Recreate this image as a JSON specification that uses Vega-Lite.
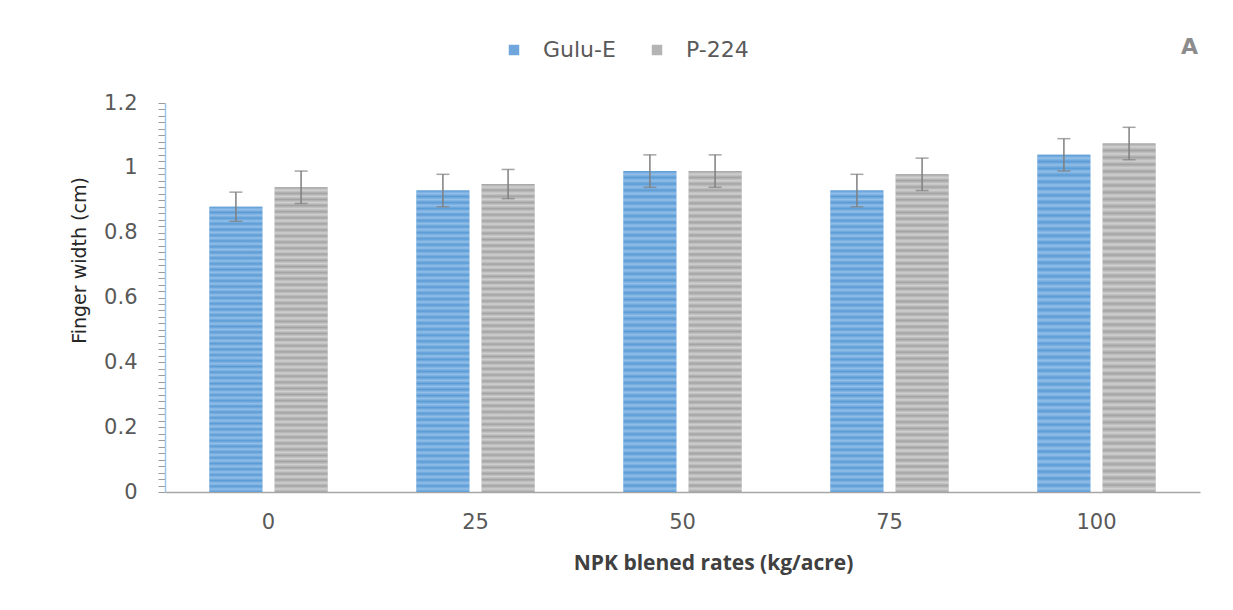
{
  "$schema": "https://vega.github.io/schema/vega-lite/v6.json",
  "autosize": {"type": "none"},
  "width": 1035,
  "height": 389,
  "padding": {"left": 165, "top": 103, "right": 33, "bottom": 118},
  "background": "white",
  "title": {"text": "A", "anchor": "end", "fontSize": 22, "font": "DejaVu Sans", "fontWeight": "bold", "color": "#8c8c8c", "offset": -20, "dx": -2},
  "config": {
    "view": {"stroke": null},
    "font": "Open Sans"
  },
  "data": {
    "values": [
      {"rate": "0", "series": "Gulu-E", "value": 0.88, "lo": 0.835, "hi": 0.925},
      {"rate": "0", "series": "P-224", "value": 0.94, "lo": 0.89, "hi": 0.99},
      {"rate": "25", "series": "Gulu-E", "value": 0.93, "lo": 0.88, "hi": 0.98},
      {"rate": "25", "series": "P-224", "value": 0.95, "lo": 0.905, "hi": 0.995},
      {"rate": "50", "series": "Gulu-E", "value": 0.99, "lo": 0.94, "hi": 1.04},
      {"rate": "50", "series": "P-224", "value": 0.99, "lo": 0.94, "hi": 1.04},
      {"rate": "75", "series": "Gulu-E", "value": 0.93, "lo": 0.88, "hi": 0.98},
      {"rate": "75", "series": "P-224", "value": 0.98, "lo": 0.93, "hi": 1.03},
      {"rate": "100", "series": "Gulu-E", "value": 1.04, "lo": 0.99, "hi": 1.09},
      {"rate": "100", "series": "P-224", "value": 1.075, "lo": 1.025, "hi": 1.125}
    ]
  },
  "encoding": {
    "x": {
      "field": "rate",
      "type": "ordinal",
      "sort": ["0", "25", "50", "75", "100"],
      "scale": {"paddingInner": 0.43, "paddingOuter": 0.215},
      "axis": {
        "title": "NPK blened rates (kg/acre)",
        "titleFont": "Open Sans",
        "titleFontWeight": "bold",
        "titleFontSize": 21,
        "titleColor": "#404040",
        "titlePadding": 20,
        "titleX": 548,
        "titleAlign": "center",
        "labelAngle": 0,
        "labelFont": "DejaVu Sans",
        "labelFontSize": 21,
        "labelColor": "#595959",
        "labelPadding": 19,
        "ticks": false,
        "domainColor": "#a6a6a6",
        "domainWidth": 1.5,
        "grid": false
      }
    },
    "xOffset": {
      "field": "series",
      "type": "nominal",
      "sort": ["Gulu-E", "P-224"],
      "scale": {"paddingInner": 0.19, "paddingOuter": 0}
    }
  },
  "layer": [
    {
      "mark": {"type": "bar"},
      "encoding": {
        "y": {
          "field": "value",
          "type": "quantitative",
          "scale": {"domain": [0, 1.2], "nice": false},
          "axis": {
            "title": "Finger width (cm)",
            "titleFont": "DejaVu Sans",
            "titleFontWeight": "normal",
            "titleFontSize": 19,
            "titleColor": "#262626",
            "titlePadding": 14,
            "titleY": 157,
            "titleAlign": "center",
            "tickCount": 100,
            "values": [0, 0.02, 0.04, 0.06, 0.08, 0.1, 0.12, 0.14, 0.16, 0.18, 0.2, 0.22, 0.24, 0.26, 0.28, 0.3, 0.32, 0.34, 0.36, 0.38, 0.4, 0.42, 0.44, 0.46, 0.48, 0.5, 0.52, 0.54, 0.56, 0.58, 0.6, 0.62, 0.64, 0.66, 0.68, 0.7, 0.72, 0.74, 0.76, 0.78, 0.8, 0.82, 0.84, 0.86, 0.88, 0.9, 0.92, 0.94, 0.96, 0.98, 1, 1.02, 1.04, 1.06, 1.08, 1.1, 1.12, 1.14, 1.16, 1.18, 1.2],
            "labelExpr": "indexof(['0','0.2','0.4','0.6','0.8','1','1.2'], toString(datum.value)) >= 0 ? toString(datum.value) : ''",
            "labelFont": "DejaVu Sans",
            "labelFontSize": 21,
            "labelColor": "#595959",
            "labelPadding": 21,
            "labelOverlap": false,
            "labelBound": false,
            "tickSize": 7,
            "tickColor": "#9a9a9a",
            "domainColor": "#9dc3e6",
            "domainWidth": 1.5,
            "grid": false
          }
        },
        "color": {
          "field": "series",
          "type": "nominal",
          "sort": ["Gulu-E", "P-224"],
          "scale": {"domain": ["Gulu-E", "P-224"], "range": ["#6fa6dc", "#b4b4b4"]},
          "legend": {
            "title": null,
            "orient": "none",
            "legendX": 338,
            "legendY": -64,
            "direction": "horizontal",
            "symbolType": "square",
            "symbolSize": 110,
            "symbolStrokeWidth": 0,
            "labelFontSize": 22,
            "labelColor": "#595959",
            "labelFont": "DejaVu Sans",
            "columnPadding": 30,
            "labelOffset": 18
          }
        }
      }
    },
    {
      "mark": {"type": "bar"},
      "encoding": {
        "y": {"field": "value", "type": "quantitative"},
        "color": {
          "condition": {
            "test": "datum.series === 'Gulu-E'",
            "value": {"gradient": "linear", "x1": 0, "y1": 0, "x2": 0, "y2": 1, "stops": [
                {"offset": 0, "color": "#5b9bd5"}, {"offset": 0.01, "color": "#92bfe9"}, {"offset": 0.02, "color": "#5b9bd5"}, {"offset": 0.03, "color": "#92bfe9"}, {"offset": 0.04, "color": "#5b9bd5"}, {"offset": 0.05, "color": "#92bfe9"}, {"offset": 0.06, "color": "#5b9bd5"}, {"offset": 0.07, "color": "#92bfe9"}, {"offset": 0.08, "color": "#5b9bd5"}, {"offset": 0.09, "color": "#92bfe9"},
                {"offset": 0.1, "color": "#5b9bd5"}, {"offset": 0.11, "color": "#92bfe9"}, {"offset": 0.12, "color": "#5b9bd5"}, {"offset": 0.13, "color": "#92bfe9"}, {"offset": 0.14, "color": "#5b9bd5"}, {"offset": 0.15, "color": "#92bfe9"}, {"offset": 0.16, "color": "#5b9bd5"}, {"offset": 0.17, "color": "#92bfe9"}, {"offset": 0.18, "color": "#5b9bd5"}, {"offset": 0.19, "color": "#92bfe9"},
                {"offset": 0.2, "color": "#5b9bd5"}, {"offset": 0.21, "color": "#92bfe9"}, {"offset": 0.22, "color": "#5b9bd5"}, {"offset": 0.23, "color": "#92bfe9"}, {"offset": 0.24, "color": "#5b9bd5"}, {"offset": 0.25, "color": "#92bfe9"}, {"offset": 0.26, "color": "#5b9bd5"}, {"offset": 0.27, "color": "#92bfe9"}, {"offset": 0.28, "color": "#5b9bd5"}, {"offset": 0.29, "color": "#92bfe9"},
                {"offset": 0.3, "color": "#5b9bd5"}, {"offset": 0.31, "color": "#92bfe9"}, {"offset": 0.32, "color": "#5b9bd5"}, {"offset": 0.33, "color": "#92bfe9"}, {"offset": 0.34, "color": "#5b9bd5"}, {"offset": 0.35, "color": "#92bfe9"}, {"offset": 0.36, "color": "#5b9bd5"}, {"offset": 0.37, "color": "#92bfe9"}, {"offset": 0.38, "color": "#5b9bd5"}, {"offset": 0.39, "color": "#92bfe9"},
                {"offset": 0.4, "color": "#5b9bd5"}, {"offset": 0.41, "color": "#92bfe9"}, {"offset": 0.42, "color": "#5b9bd5"}, {"offset": 0.43, "color": "#92bfe9"}, {"offset": 0.44, "color": "#5b9bd5"}, {"offset": 0.45, "color": "#92bfe9"}, {"offset": 0.46, "color": "#5b9bd5"}, {"offset": 0.47, "color": "#92bfe9"}, {"offset": 0.48, "color": "#5b9bd5"}, {"offset": 0.49, "color": "#92bfe9"},
                {"offset": 0.5, "color": "#5b9bd5"}, {"offset": 0.51, "color": "#92bfe9"}, {"offset": 0.52, "color": "#5b9bd5"}, {"offset": 0.53, "color": "#92bfe9"}, {"offset": 0.54, "color": "#5b9bd5"}, {"offset": 0.55, "color": "#92bfe9"}, {"offset": 0.56, "color": "#5b9bd5"}, {"offset": 0.57, "color": "#92bfe9"}, {"offset": 0.58, "color": "#5b9bd5"}, {"offset": 0.59, "color": "#92bfe9"},
                {"offset": 0.6, "color": "#5b9bd5"}, {"offset": 0.61, "color": "#92bfe9"}, {"offset": 0.62, "color": "#5b9bd5"}, {"offset": 0.63, "color": "#92bfe9"}, {"offset": 0.64, "color": "#5b9bd5"}, {"offset": 0.65, "color": "#92bfe9"}, {"offset": 0.66, "color": "#5b9bd5"}, {"offset": 0.67, "color": "#92bfe9"}, {"offset": 0.68, "color": "#5b9bd5"}, {"offset": 0.69, "color": "#92bfe9"},
                {"offset": 0.7, "color": "#5b9bd5"}, {"offset": 0.71, "color": "#92bfe9"}, {"offset": 0.72, "color": "#5b9bd5"}, {"offset": 0.73, "color": "#92bfe9"}, {"offset": 0.74, "color": "#5b9bd5"}, {"offset": 0.75, "color": "#92bfe9"}, {"offset": 0.76, "color": "#5b9bd5"}, {"offset": 0.77, "color": "#92bfe9"}, {"offset": 0.78, "color": "#5b9bd5"}, {"offset": 0.79, "color": "#92bfe9"},
                {"offset": 0.8, "color": "#5b9bd5"}, {"offset": 0.81, "color": "#92bfe9"}, {"offset": 0.82, "color": "#5b9bd5"}, {"offset": 0.83, "color": "#92bfe9"}, {"offset": 0.84, "color": "#5b9bd5"}, {"offset": 0.85, "color": "#92bfe9"}, {"offset": 0.86, "color": "#5b9bd5"}, {"offset": 0.87, "color": "#92bfe9"}, {"offset": 0.88, "color": "#5b9bd5"}, {"offset": 0.89, "color": "#92bfe9"},
                {"offset": 0.9, "color": "#5b9bd5"}, {"offset": 0.91, "color": "#92bfe9"}, {"offset": 0.92, "color": "#5b9bd5"}, {"offset": 0.93, "color": "#92bfe9"}, {"offset": 0.94, "color": "#5b9bd5"}, {"offset": 0.95, "color": "#92bfe9"}, {"offset": 0.96, "color": "#5b9bd5"}, {"offset": 0.97, "color": "#92bfe9"}, {"offset": 0.98, "color": "#5b9bd5"}, {"offset": 0.99, "color": "#92bfe9"},
                {"offset": 1, "color": "#5b9bd5"}
              ]}
          },
          "value": {"gradient": "linear", "x1": 0, "y1": 0, "x2": 0, "y2": 1, "stops": [
                {"offset": 0, "color": "#a3a3a3"}, {"offset": 0.01, "color": "#d0d0d0"}, {"offset": 0.02, "color": "#a3a3a3"}, {"offset": 0.03, "color": "#d0d0d0"}, {"offset": 0.04, "color": "#a3a3a3"}, {"offset": 0.05, "color": "#d0d0d0"}, {"offset": 0.06, "color": "#a3a3a3"}, {"offset": 0.07, "color": "#d0d0d0"}, {"offset": 0.08, "color": "#a3a3a3"}, {"offset": 0.09, "color": "#d0d0d0"},
                {"offset": 0.1, "color": "#a3a3a3"}, {"offset": 0.11, "color": "#d0d0d0"}, {"offset": 0.12, "color": "#a3a3a3"}, {"offset": 0.13, "color": "#d0d0d0"}, {"offset": 0.14, "color": "#a3a3a3"}, {"offset": 0.15, "color": "#d0d0d0"}, {"offset": 0.16, "color": "#a3a3a3"}, {"offset": 0.17, "color": "#d0d0d0"}, {"offset": 0.18, "color": "#a3a3a3"}, {"offset": 0.19, "color": "#d0d0d0"},
                {"offset": 0.2, "color": "#a3a3a3"}, {"offset": 0.21, "color": "#d0d0d0"}, {"offset": 0.22, "color": "#a3a3a3"}, {"offset": 0.23, "color": "#d0d0d0"}, {"offset": 0.24, "color": "#a3a3a3"}, {"offset": 0.25, "color": "#d0d0d0"}, {"offset": 0.26, "color": "#a3a3a3"}, {"offset": 0.27, "color": "#d0d0d0"}, {"offset": 0.28, "color": "#a3a3a3"}, {"offset": 0.29, "color": "#d0d0d0"},
                {"offset": 0.3, "color": "#a3a3a3"}, {"offset": 0.31, "color": "#d0d0d0"}, {"offset": 0.32, "color": "#a3a3a3"}, {"offset": 0.33, "color": "#d0d0d0"}, {"offset": 0.34, "color": "#a3a3a3"}, {"offset": 0.35, "color": "#d0d0d0"}, {"offset": 0.36, "color": "#a3a3a3"}, {"offset": 0.37, "color": "#d0d0d0"}, {"offset": 0.38, "color": "#a3a3a3"}, {"offset": 0.39, "color": "#d0d0d0"},
                {"offset": 0.4, "color": "#a3a3a3"}, {"offset": 0.41, "color": "#d0d0d0"}, {"offset": 0.42, "color": "#a3a3a3"}, {"offset": 0.43, "color": "#d0d0d0"}, {"offset": 0.44, "color": "#a3a3a3"}, {"offset": 0.45, "color": "#d0d0d0"}, {"offset": 0.46, "color": "#a3a3a3"}, {"offset": 0.47, "color": "#d0d0d0"}, {"offset": 0.48, "color": "#a3a3a3"}, {"offset": 0.49, "color": "#d0d0d0"},
                {"offset": 0.5, "color": "#a3a3a3"}, {"offset": 0.51, "color": "#d0d0d0"}, {"offset": 0.52, "color": "#a3a3a3"}, {"offset": 0.53, "color": "#d0d0d0"}, {"offset": 0.54, "color": "#a3a3a3"}, {"offset": 0.55, "color": "#d0d0d0"}, {"offset": 0.56, "color": "#a3a3a3"}, {"offset": 0.57, "color": "#d0d0d0"}, {"offset": 0.58, "color": "#a3a3a3"}, {"offset": 0.59, "color": "#d0d0d0"},
                {"offset": 0.6, "color": "#a3a3a3"}, {"offset": 0.61, "color": "#d0d0d0"}, {"offset": 0.62, "color": "#a3a3a3"}, {"offset": 0.63, "color": "#d0d0d0"}, {"offset": 0.64, "color": "#a3a3a3"}, {"offset": 0.65, "color": "#d0d0d0"}, {"offset": 0.66, "color": "#a3a3a3"}, {"offset": 0.67, "color": "#d0d0d0"}, {"offset": 0.68, "color": "#a3a3a3"}, {"offset": 0.69, "color": "#d0d0d0"},
                {"offset": 0.7, "color": "#a3a3a3"}, {"offset": 0.71, "color": "#d0d0d0"}, {"offset": 0.72, "color": "#a3a3a3"}, {"offset": 0.73, "color": "#d0d0d0"}, {"offset": 0.74, "color": "#a3a3a3"}, {"offset": 0.75, "color": "#d0d0d0"}, {"offset": 0.76, "color": "#a3a3a3"}, {"offset": 0.77, "color": "#d0d0d0"}, {"offset": 0.78, "color": "#a3a3a3"}, {"offset": 0.79, "color": "#d0d0d0"},
                {"offset": 0.8, "color": "#a3a3a3"}, {"offset": 0.81, "color": "#d0d0d0"}, {"offset": 0.82, "color": "#a3a3a3"}, {"offset": 0.83, "color": "#d0d0d0"}, {"offset": 0.84, "color": "#a3a3a3"}, {"offset": 0.85, "color": "#d0d0d0"}, {"offset": 0.86, "color": "#a3a3a3"}, {"offset": 0.87, "color": "#d0d0d0"}, {"offset": 0.88, "color": "#a3a3a3"}, {"offset": 0.89, "color": "#d0d0d0"},
                {"offset": 0.9, "color": "#a3a3a3"}, {"offset": 0.91, "color": "#d0d0d0"}, {"offset": 0.92, "color": "#a3a3a3"}, {"offset": 0.93, "color": "#d0d0d0"}, {"offset": 0.94, "color": "#a3a3a3"}, {"offset": 0.95, "color": "#d0d0d0"}, {"offset": 0.96, "color": "#a3a3a3"}, {"offset": 0.97, "color": "#d0d0d0"}, {"offset": 0.98, "color": "#a3a3a3"}, {"offset": 0.99, "color": "#d0d0d0"},
                {"offset": 1, "color": "#a3a3a3"}
              ]}
        }
      }
    },
    {
      "mark": {"type": "rule", "color": "#7f7f7f", "strokeWidth": 1.5},
      "encoding": {
        "y": {"field": "lo", "type": "quantitative"},
        "y2": {"field": "hi"}
      }
    },
    {
      "mark": {"type": "tick", "color": "#7f7f7f", "size": 13, "thickness": 1.5},
      "encoding": {
        "y": {"field": "lo", "type": "quantitative"}
      }
    },
    {
      "mark": {"type": "tick", "color": "#7f7f7f", "size": 13, "thickness": 1.5},
      "encoding": {
        "y": {"field": "hi", "type": "quantitative"}
      }
    }
  ]
}
